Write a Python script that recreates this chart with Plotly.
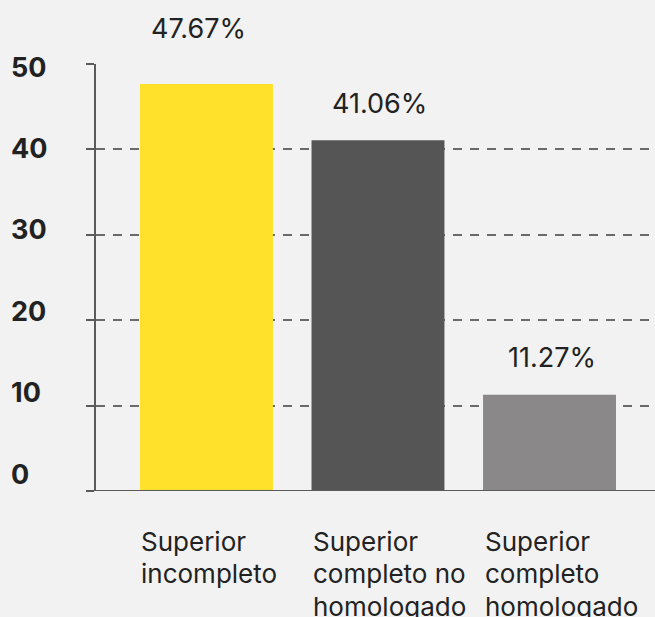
import plotly.graph_objects as go

categories = ["Superior incompleto", "Superior completo no homologado", "Superior completo homologado"]
category_label_lines = [["Superior", "incompleto"],
                        ["Superior", "completo no", "homologado"],
                        ["Superior", "completo", "homologado"]]
values = [47.67, 41.06, 11.27]
value_labels = ["47.67%", "41.06%", "11.27%"]
bar_colors = ["#FFE12B", "#555555", "#8A8889"]
y_ticks = [0, 10, 20, 30, 40, 50]
y_tick_labels = ["0", "10", "20", "30", "40", "50"]

FONT = "Inter"
BG = "#F2F2F2"

fig = go.Figure()
fig.add_trace(go.Bar(
    x=categories, y=values, marker=dict(color=bar_colors, line=dict(width=0)),
    width=0.775, cliponaxis=False, hoverinfo="skip",
))

annotations = []
# value labels above bars
label_yshift = [55, 37, 37]
label_xshift = [-8, 2, 2]
for c, v, t, ys, xs in zip(categories, values, value_labels, label_yshift, label_xshift):
    annotations.append(dict(x=c, y=v, text=t, showarrow=False, xref="x", yref="y",
                            yanchor="middle", yshift=ys, xshift=xs,
                            font=dict(family=FONT, size=27, color="#222222")))
# category labels below axis, left aligned to bar edge, one annotation per line
for c, lines in zip(categories, category_label_lines):
    for i, line in enumerate(lines):
        annotations.append(dict(x=c, y=0, text=line, showarrow=False, xref="x", yref="y",
                                xanchor="left", yanchor="middle", align="left",
                                xshift=-67, yshift=-50 - 32.5 * i,
                                font=dict(family=FONT, size=26, color="#222222")))
# y tick labels, left aligned
for v, t in zip(y_ticks, y_tick_labels):
    annotations.append(dict(x=0, y=v, text="<b>" + t + "</b>", showarrow=False,
                            xref="paper", yref="y", xanchor="left", yanchor="middle",
                            xshift=-87, yshift=17 - 0.4 * v,
                            font=dict(family=FONT, size=27, color="#222222")))

fig.update_layout(
    width=655, height=617,
    margin=dict(l=96, r=0, t=64, b=126, pad=0),
    paper_bgcolor=BG, plot_bgcolor=BG,
    showlegend=False,
    annotations=annotations,
    xaxis=dict(range=[-0.644, 2.615], showticklabels=False, showgrid=False,
               zeroline=False, showline=False, ticks=""),
    yaxis=dict(range=[0, 50], tickvals=y_ticks, showticklabels=False,
               showgrid=True, gridcolor="#6A6A6A", gridwidth=1.6, griddash="9px,8px",
               zeroline=False, showline=True, linecolor="#5A5A5A", linewidth=2,
               ticks="outside", ticklen=8, tickcolor="#5A5A5A", tickwidth=2),
)
# x axis baseline extending left over tick area
fig.add_shape(type="line", xref="paper", yref="y", x0=-8 / 559, x1=1, y0=0, y1=0,
              line=dict(color="#5A5A5A", width=2))

fig.write_html(
    "out.html",
    config={"displayModeBar": False},
    post_script="document.body.style.margin='0';document.body.style.padding='0';"
                "document.body.style.background='" + BG + "';",
)
